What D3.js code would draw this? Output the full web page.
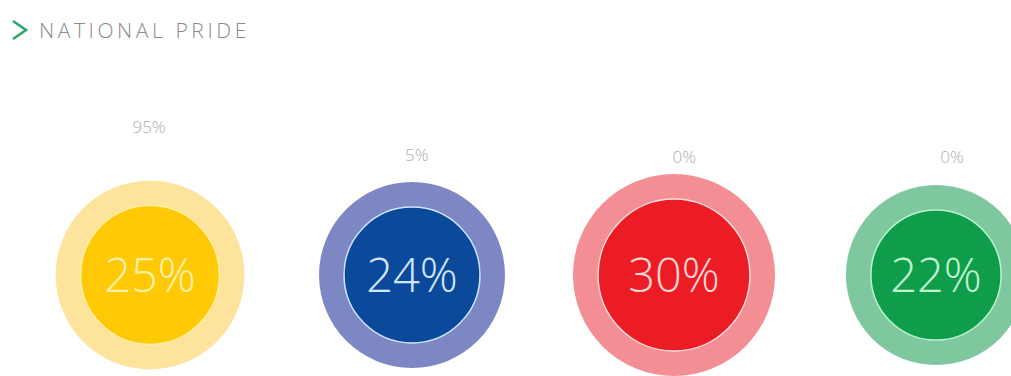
<!DOCTYPE html>
<html>
<head>
<meta charset="utf-8">
<script src="https://cdn.jsdelivr.net/npm/d3@7"></script>
<style>
  html, body { margin: 0; padding: 0; background: #fff; }
  svg { display: block; font-family: "Open Sans", "Segoe UI", Lato, sans-serif; }
</style>
</head>
<body>
<svg id="chart"></svg>
<script>
const categories = ['Yellow', 'Blue', 'Red', 'Green'];
const shares = [25, 24, 30, 22];
const prideValues = [95, 5, 0, 0];
const innerColors = ['#ffc905', '#0b4a9a', '#ec1c24', '#0f9d4b'];
const outerColors = ['#fde39c', '#7c87c3', '#f38f94', '#7fc89f'];
const textColors = ['#fff2a8', '#d3e6ff', '#ffd6d6', '#bff5cf'];
const strokeColors = ['#fff0a0', '#cfe4ff', '#ffe0e0', '#b8f4cc'];

const width = 1011;
const height = 376;

const svg = d3.select('#chart')
    .attr('width', width)
    .attr('height', height);

// Title
const title = svg.append('g').attr('transform', 'translate(12,30)');
title.append('path')
    .attr('d', 'M1,-9 L14,0 L1,9')
    .attr('fill', 'none')
    .attr('stroke', '#2aa56b')
    .attr('stroke-width', 2.6);
title.append('text')
    .attr('x', 27)
    .attr('y', 8)
    .attr('fill', '#8a8a8a')
    .attr('font-size', 21)
    .attr('font-weight', 300)
    .attr('letter-spacing', 3.6)
    .text('NATIONAL PRIDE');

// Scales
const x = d3.scalePoint().domain(categories).range([150, 936]);
const xLabel = d3.scalePoint().domain(categories).range([149, 952]);
const r = d3.scaleSqrt().domain([0, 30]).range([0, 76]);
const labelY = d3.scaleLinear().domain([0, 100]).range([163, 131]);
const cy = 275;
const ring = 25;

const g = svg.selectAll('.bubble')
    .data(categories)
    .enter().append('g')
    .attr('class', 'bubble')
    .attr('transform', d => `translate(${x(d)},${cy})`);

g.append('circle')
    .attr('r', (d, i) => r(shares[i]) + ring)
    .attr('fill', (d, i) => outerColors[i]);

g.append('circle')
    .attr('r', (d, i) => r(shares[i]))
    .attr('fill', (d, i) => innerColors[i])
    .attr('stroke', (d, i) => strokeColors[i])
    .attr('stroke-width', 1.5);

g.append('text')
    .attr('text-anchor', 'middle')
    .attr('dy', '0.36em')
    .attr('fill', (d, i) => textColors[i])
    .attr('font-size', 47)
    .attr('font-weight', 300)
    .text((d, i) => shares[i] + '%');

svg.selectAll('.pride')
    .data(categories)
    .enter().append('text')
    .attr('class', 'pride')
    .attr('x', d => xLabel(d))
    .attr('y', (d, i) => labelY(prideValues[i]))
    .attr('text-anchor', 'middle')
    .attr('fill', '#adadad')
    .attr('font-size', 17)
    .attr('font-weight', 300)
    .text((d, i) => prideValues[i] + '%');
</script>
</body>
</html>
